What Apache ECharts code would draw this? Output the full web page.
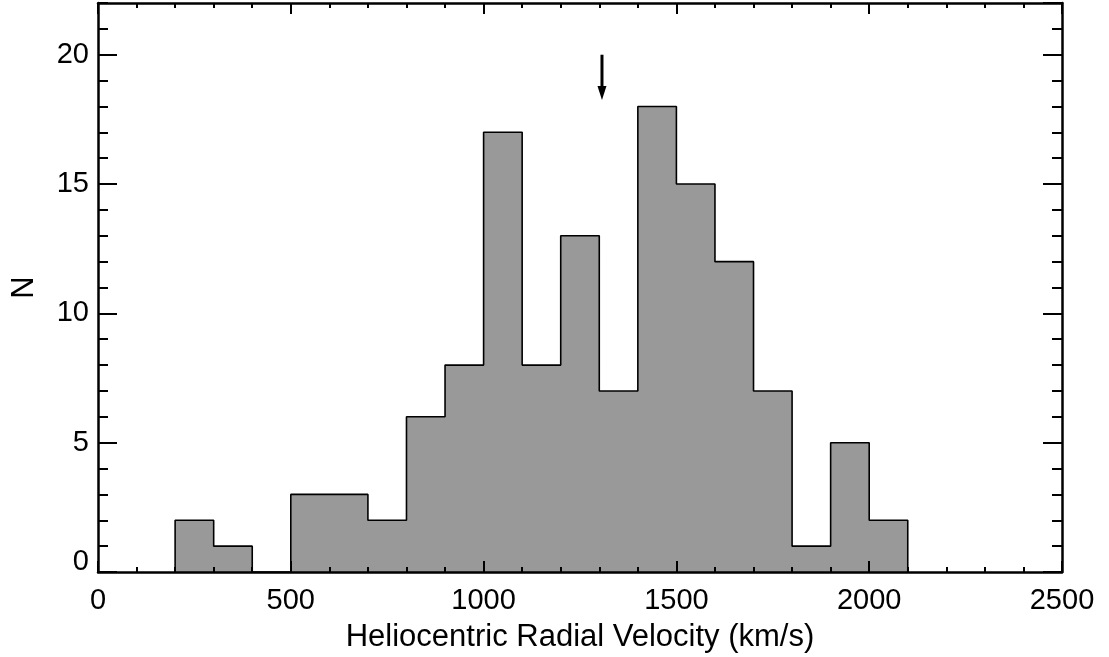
<!DOCTYPE html>
<html>
<head>
<meta charset="utf-8">
<script src="https://cdn.jsdelivr.net/npm/echarts@6/dist/echarts.min.js"></script>
<style>html,body{margin:0;padding:0;background:#fff;}#c{width:1109px;height:657px;}</style>
</head>
<body>
<div id="c"></div>
<script>
// Histogram data: bin edges (km/s) and counts
var binStart = 200;
var binWidth = 100;
var counts = [2, 1, 0, 3, 3, 2, 6, 8, 17, 8, 13, 7, 18, 15, 12, 7, 1, 5, 2];
// Arrow marker
var arrowX = 1307;
var arrowTop = 20;
var arrowTip = 18.25;
// Axis setup
var xMin = 0, xMax = 2500, xStep = 500;
var yMin = 0, yMax = 22, yStep = 5;

var FONT = '"Liberation Sans", Arial, Helvetica, sans-serif';

// Step outline points built from the bins
var steps = [[binStart, 0]];
for (var i = 0; i < counts.length; i++) {
  var a = binStart + i * binWidth, b = a + binWidth;
  steps.push([a, counts[i]]);
  steps.push([b, counts[i]]);
}
steps.push([binStart + counts.length * binWidth, 0]);

var chart = echarts.init(document.getElementById('c'), null, {renderer: 'canvas'});

var lineW = 2.5;
function xAx(pos, labels) {
  return {
    type: 'value', position: pos, min: xMin, max: xMax, interval: xStep, z: 5,
    axisLine: {show: true, onZero: false, lineStyle: {color: '#000', width: lineW}},
    axisTick: {show: true, inside: true, length: 11, lineStyle: {color: '#000', width: 2}},
    minorTick: {show: true, splitNumber: 5, length: 5, lineStyle: {color: '#000', width: 2}},
    splitLine: {show: false}, minorSplitLine: {show: false},
    axisLabel: {show: labels, color: '#000', fontSize: 29, fontFamily: FONT, margin: 14,
      formatter: function (v) { return String(v); }},
    name: labels ? 'Heliocentric Radial Velocity (km/s)' : '',
    nameLocation: 'middle', nameGap: 50,
    nameTextStyle: {color: '#000', fontSize: 31, fontFamily: FONT}
  };
}
function yAx(pos, major, labels) {
  return {
    type: 'value', position: pos, min: yMin, max: yMax, interval: major ? yStep : 1, z: 5,
    axisLine: {show: major, onZero: false, lineStyle: {color: '#000', width: lineW}},
    axisTick: {show: true, inside: true, length: major ? 19 : 10, lineStyle: {color: '#000', width: 2}},
    splitLine: {show: false},
    axisLabel: {
      show: labels, color: '#000', fontSize: 29, fontFamily: FONT, margin: 9,
      showMaxLabel: false,
      formatter: function (v) { return v === 0 ? '{z|0}' : String(v); },
      rich: {z: {fontSize: 29, fontFamily: FONT, color: '#000', padding: [0, 0, 20, 0]}}
    },
    name: labels ? 'N' : '',
    nameLocation: 'middle', nameGap: 58, nameRotate: 90,
    nameTextStyle: {color: '#000', fontSize: 31, fontFamily: FONT}
  };
}

chart.setOption({
  animation: false,
  backgroundColor: '#fff',
  grid: {left: 98, right: 47, top: 3, bottom: 85, containLabel: false, outerBoundsMode: 'none'},
  xAxis: [xAx('bottom', true), xAx('top', false)],
  yAxis: [yAx('left', true, true), yAx('left', false, false), yAx('right', true, false), yAx('right', false, false)],
  series: [
    {
      type: 'line', xAxisIndex: 0, yAxisIndex: 0, data: steps, symbol: 'none',
      lineStyle: {color: '#000', width: 1.6}, areaStyle: {color: '#999999', opacity: 1},
      z: 2
    },
    {
      type: 'custom', xAxisIndex: 0, yAxisIndex: 0, z: 3,
      data: [[arrowX, arrowTop, arrowTip]],
      renderItem: function (params, api) {
        var top = api.coord([api.value(0), api.value(1)]);
        var tip = api.coord([api.value(0), api.value(2)]);
        var headLen = 14, headW = 9;
        return {
          type: 'group',
          children: [
            {type: 'line', shape: {x1: top[0], y1: top[1], x2: tip[0], y2: tip[1] - headLen + 2},
             style: {stroke: '#000', lineWidth: 3}},
            {type: 'polygon', shape: {points: [[tip[0] - headW / 2, tip[1] - headLen], [tip[0] + headW / 2, tip[1] - headLen], [tip[0], tip[1]]]},
             style: {fill: '#000'}}
          ]
        };
      }
    }
  ]
});
</script>
</body>
</html>
